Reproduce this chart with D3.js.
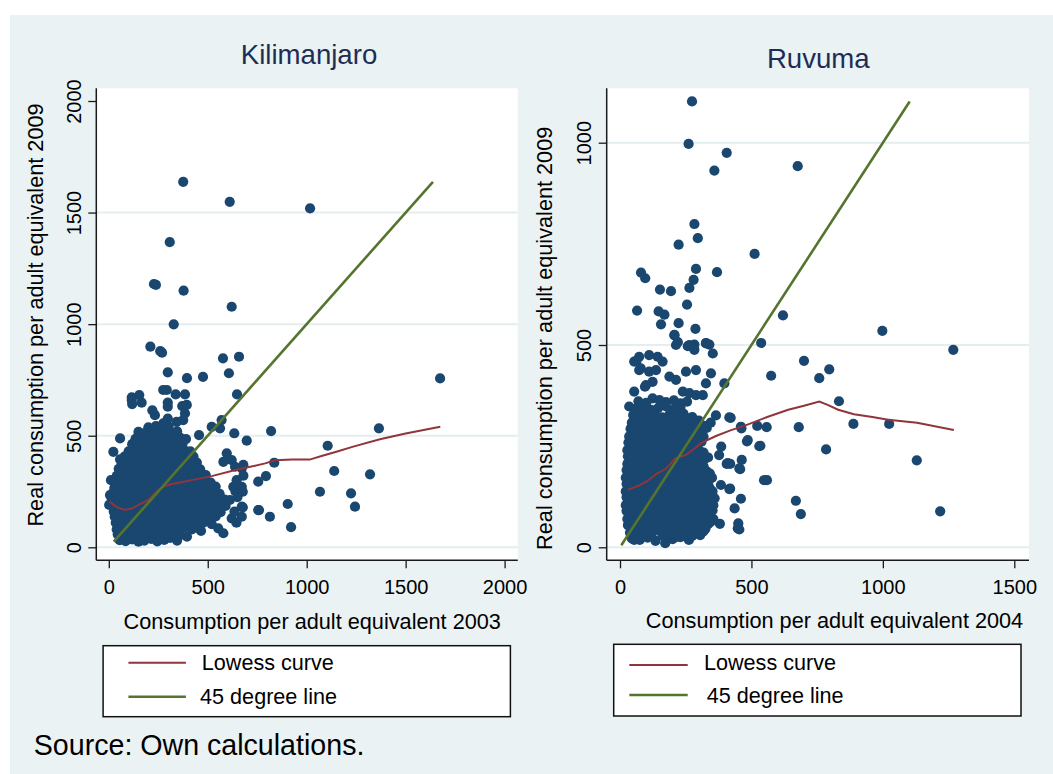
<!DOCTYPE html>
<html>
<head>
<meta charset="utf-8">
<script src="https://cdn.jsdelivr.net/npm/d3@7"></script>
<style>
  body { margin: 0; background: #ffffff; }
  svg { display: block; }
  text { font-family: "Liberation Sans", Arial, sans-serif; }
</style>
</head>
<body>
<svg id="chart" width="1053" height="774"></svg>
<script>
// ---------- Kilimanjaro: consumption 2003 (x) vs real consumption 2009 (y) ----------
const kiliPoints = [
  [376,1638],[611,1548],[1017,1519],[308,1368],[228,1180],[238,1176],[378,1150],[621,1078],[328,999],
  [210,899],[260,879],[269,872],[577,847],[658,854],[298,784],[395,758],[476,764],[607,780],[275,705],
  [293,705],[338,685],[385,685],[648,685],[116,672],[154,682],[1674,757],
  [116,660],[118,642],[166,648],[298,648],[298,630],[371,633],[394,638],[220,614],[233,592],[385,600],
  [376,570],[343,562],[298,577],[275,555],[570,570],[562,533],[520,540],[456,503],[634,511],[697,478],
  [57,488],[23,428],[57,394],[11,301],[6,234],[2,190],[596,421],[579,383],[621,391],[638,361],[672,354],
  [646,301],[629,271],[672,271],[755,294],[612,212],[672,182],[621,130],[672,137],[755,167],[466,74],
  [553,85],[579,63],[820,521],[1365,533],[1106,455],[836,379],[680,369],[1139,342],[1320,327],[794,319],
  [680,321],[677,249],[1067,249],[1224,242],[1244,182],[904,194],[759,167],[814,137],[921,90],[677,179],
  [640,250],[650,225],[635,160],[645,110],
  [55,32],[85,28],[118,35],[150,25],[180,30],[215,38],[245,27],[280,33],[310,42],[345,30],
  [45,58],[75,52],[105,60],[138,50],[168,56],[200,62],[232,53],[262,58],[295,50],[325,60],[360,55],[395,48],
  [40,80],[70,86],[100,78],[130,84],[160,88],[192,79],[222,85],[255,80],[285,87],[318,78],[350,83],[385,90],
  [420,80],[455,86],
  [35,110],[65,104],[95,112],[125,106],[155,102],[188,111],[218,107],[250,113],[280,104],[312,109],[345,115],
  [378,103],[410,110],[440,106],[480,112],[520,104],
  [30,137],[60,132],[92,140],[122,134],[152,130],[185,138],[215,133],[245,141],[278,131],[308,136],[340,142],
  [372,130],[405,137],[438,133],[470,140],[505,131],[540,138],
  [25,160],[55,166],[88,158],[118,163],[148,168],[180,159],[210,165],[242,161],[275,169],[305,157],[338,164],
  [370,160],[400,167],[432,158],[465,163],[498,170],[530,161],[565,157],
  [20,190],[50,185],[82,193],[112,187],[145,182],[175,191],[205,186],[238,194],[270,183],[300,189],[332,192],
  [365,184],[398,190],[430,186],[462,193],[495,182],[528,189],[560,195],[590,185],
  [15,213],[45,218],[78,211],[110,220],[140,214],[172,209],[205,217],[235,222],[268,212],[298,216],[330,210],
  [362,219],[395,214],[428,221],[460,209],[492,216],[525,212],[558,219],[585,214],
  [22,244],[52,238],[85,246],[115,240],[148,236],[178,245],[210,241],[240,248],[272,237],[305,243],[335,249],
  [368,239],[400,245],[432,240],[465,247],[498,236],[530,243],[560,240],
  [28,266],[60,272],[90,264],[122,270],[152,275],[185,263],[215,269],[248,274],[278,265],[310,271],[342,262],
  [372,268],[405,276],[438,264],[470,270],[500,266],[540,272],
  [30,297],[62,292],[95,300],[125,290],[158,296],[190,302],[220,291],[252,298],[285,293],[315,301],[348,289],
  [380,296],[412,292],[445,299],[478,294],[515,290],
  [40,320],[72,326],[105,318],[135,324],[168,329],[198,317],[230,323],[262,328],[292,319],[325,325],[358,316],
  [390,322],[422,327],[455,318],[490,324],
  [50,352],[82,346],[112,354],[145,348],[175,343],[208,351],[240,356],[270,345],[302,350],[335,355],[365,347],
  [398,352],[430,344],[462,349],
  [65,376],[95,381],[128,374],[158,379],[190,384],[220,373],[252,378],[285,383],[315,372],[348,377],[380,382],
  [410,375],[445,380],
  [80,407],[112,402],[142,409],[175,404],[205,399],[238,406],[268,411],[300,401],[332,405],[362,409],[395,400],
  [428,406],
  [100,430],[130,436],[162,428],[192,433],[225,438],[255,427],[288,432],[318,437],[350,429],[382,434],[412,430],
  [118,462],[150,457],[182,464],[212,459],[245,455],[278,461],[308,466],[340,456],[372,462],
  [135,486],[168,491],[200,484],[232,489],[262,494],[295,483],[328,488],[360,492],[390,485],
  [150,517],[182,512],[215,519],[248,514],[280,510],[312,516],[345,520],
  [200,538],[238,543],[270,536],[302,541]
];
const kiliLowessX = [5, 40, 82, 120, 150, 200, 250, 285, 318, 360, 420, 520, 640, 790, 840, 925, 1015, 1075, 1150, 1235, 1370, 1500, 1675];
const kiliLowessY = [204, 180, 167, 175, 190, 212, 257, 275, 284, 290, 301, 319, 346, 376, 390, 393, 393, 409, 428, 451, 484, 510, 540];
const kiliDiag = [25, 1638];
const kiliXTicks = [0, 500, 1000, 1500, 2000];
const kiliYTicks = [0, 500, 1000, 1500, 2000];
const kiliGrid = [0, 500, 1000, 1500];

// ---------- Ruvuma: consumption 2004 (x) vs real consumption 2009 (y) ----------
const ruvPoints = [
  [274,1102],[261,997],[406,975],[359,931],[676,942],[283,799],[296,764],[223,748],[512,725],[289,688],
  [369,680],[80,679],[96,665],[280,661],[264,641],[152,637],[194,633],[65,585],[147,583],[169,575],[255,600],
  [156,551],[223,554],[287,540],[620,573],[207,524],[220,507],[258,497],[283,501],[327,505],[340,501],
  [537,505],[998,535],[1268,488],[700,461],[796,440],[758,418],[575,424],[833,361],[421,320],[462,294],
  [522,300],[558,297],[680,297],[888,305],[1024,305],[483,262],[534,251],[784,242],[385,249],[377,228],
  [406,206],[419,206],[463,216],[457,193],[1129,215],[559,166],[419,145],[460,120],[436,96],[669,115],
  [688,82],[1218,89],[450,59],[454,44],[380,58],[172,10],[54,18],[315,39],[448,47],[416,144],[384,154],
  [454,195],[410,208],[548,166],[486,265],[530,250],[460,298],[416,321],
  [54,459],[73,471],[111,475],[143,471],[162,459],[73,438],[111,434],[137,438],[188,422],[213,414],
  [124,409],[99,401],[54,385],[35,348],[73,331],[124,368],[150,364],[239,385],[251,434],[289,438],
  [327,405],[346,430],[264,381],[289,376],[315,376],[397,405],[213,500],[264,500],[283,488],[327,504],
  [353,479],[207,525],[63,461],[79,442],[95,397],
  [45,22],[75,18],[105,24],[135,16],[200,20],[230,25],[262,18],
  [38,36],[65,40],[92,34],[120,38],[148,42],[175,35],[202,39],[230,33],[258,41],[290,36],[318,40],
  [30,55],[58,51],[85,57],[112,53],[140,49],[168,56],[195,52],[222,58],[250,50],[278,55],[305,53],[335,57],
  [28,70],[55,74],[82,68],[110,72],[138,76],[165,69],[192,73],[220,67],[248,71],[275,75],[302,68],[330,72],[355,70],
  [25,90],[52,86],[80,92],[108,87],[135,84],[162,91],[190,86],[218,89],[245,93],[272,85],[300,90],[328,87],[352,91],
  [22,104],[50,108],[78,102],[105,106],[132,110],[160,103],[188,107],[215,101],[242,105],[270,109],[298,103],[325,107],[355,104],
  [25,124],[52,119],[80,125],[108,121],[135,117],[162,123],[190,126],[218,120],[245,124],[272,118],[300,122],[330,127],[360,121],
  [22,138],[50,142],[78,136],[105,140],[132,144],[160,137],[188,141],[215,135],[242,139],[270,143],[298,137],[325,141],[352,138],
  [25,157],[52,153],[80,159],[108,155],[135,151],[162,158],[190,154],[218,160],[245,152],[272,156],[300,159],[328,154],
  [22,172],[50,176],[78,170],[105,174],[132,178],[160,171],[188,175],[215,169],[242,173],[270,177],[298,171],[325,175],[350,172],
  [25,191],[52,187],[80,193],[108,189],[135,185],[162,192],[190,188],[218,194],[245,186],[272,190],[300,193],[330,188],
  [28,206],[55,210],[82,204],[110,208],[138,212],[165,205],[192,209],[220,203],[248,207],[275,211],[305,205],
  [30,225],[58,221],[85,227],[112,223],[140,219],[168,226],[195,222],[222,228],[250,220],[278,224],[305,227],[335,222],
  [28,240],[55,244],[82,238],[110,242],[138,246],[165,239],[192,243],[220,237],[248,241],[275,245],[302,239],
  [32,259],[60,255],[88,261],[115,257],[142,253],[170,260],[198,256],[225,262],[252,254],[280,258],[310,261],
  [35,274],[62,278],[90,272],[118,276],[145,280],[172,273],[200,277],[228,271],[255,275],[285,279],[318,273],
  [40,293],[68,289],[95,295],[122,291],[150,287],[178,294],[205,290],[232,296],[260,288],[290,292],[330,295],
  [45,308],[72,312],[100,306],[128,310],[155,314],[182,307],[210,311],[238,305],[265,309],[300,313],[345,308],
  [50,327],[78,323],[105,329],[132,325],[160,321],[188,328],[215,324],[242,330],[275,322],[365,326],
  [60,342],[90,346],[118,340],[145,344],[175,348],[205,341],[230,345],
  [70,361],[100,357],[175,359],[205,363],[230,356],[255,360],
  [60,29],[90,27],[120,31],[162,28],[188,30],[215,26],[245,32],[275,28],[305,30],
  [45,46],[72,47],[100,45],[128,48],[155,44],[182,46],[210,47],[238,45],[265,48],[298,44],[325,46],
  [42,63],[70,62],[98,64],[125,61],[152,63],[180,65],[208,62],[235,63],[262,61],[290,64],[318,62],[345,63],
  [40,80],[68,81],[95,79],[122,80],[150,82],[178,79],[205,81],[232,78],[260,80],[288,82],[315,79],[340,81],
  [36,97],[64,96],[92,98],[120,97],[148,95],[175,98],[202,96],[230,97],[258,99],[285,96],[312,98],[340,97],
  [38,114],[66,113],[94,115],[122,114],[148,112],[176,115],[204,113],[230,114],[258,116],[286,113],[314,115],[345,114],
  [36,131],[64,130],[92,132],[120,131],[148,129],[175,132],[202,130],[230,131],[258,133],[285,130],[312,132],[340,131],
  [38,148],[66,147],[94,149],[122,148],[148,146],[176,149],[204,147],[232,148],[258,150],[286,147],[314,149],[340,148],
  [36,165],[64,164],[92,166],[120,165],[148,163],[175,166],[202,164],[230,165],[258,167],[285,164],[312,166],[338,165],
  [38,182],[66,181],[94,183],[122,182],[148,180],[176,183],[204,181],[232,182],[258,184],[286,181],[314,183],[342,182],
  [40,199],[68,198],[95,200],[122,199],[150,197],[178,200],[205,198],[232,199],[260,201],[288,198],[318,200],
  [42,216],[70,215],[98,217],[125,216],[152,214],[180,217],[208,215],[235,216],[262,218],[290,215],[320,217],
  [42,233],[70,232],[96,234],[124,233],[152,231],[180,234],[206,232],[234,233],[262,235],[290,232],[318,234],
  [45,250],[72,249],[100,251],[128,250],[155,248],[182,251],[210,249],[238,250],[265,252],[292,249],
  [48,267],[75,266],[104,268],[132,267],[158,265],[186,268],[214,266],[240,267],[268,269],[300,266],
  [52,284],[80,283],[108,285],[135,284],[162,282],[190,285],[218,283],[245,284],[275,286],[310,283],
  [58,301],[85,300],[112,302],[140,301],[168,299],[195,302],[222,300],[250,301],[280,303],[320,300],
  [62,318],[90,317],[118,319],[146,318],[174,316],[202,319],[228,317],[258,318]
];
const ruvLowessX = [30, 70, 100, 140, 175, 210, 250, 275, 310, 365, 420, 480, 560, 640, 700, 758, 790, 830, 890, 960, 1020, 1130, 1270];
const ruvLowessY = [142, 152, 162, 182, 194, 220, 228, 240, 258, 275, 289, 302, 322, 340, 350, 360, 352, 340, 329, 322, 315, 308, 290];
const ruvDiag = [5, 1102];
const ruvXTicks = [0, 500, 1000, 1500];
const ruvYTicks = [0, 500, 1000];
const ruvGrid = [0, 500, 1000];

// ---------- text ----------
const panelTitles = ["Kilimanjaro", "Ruvuma"];
const xTitles = ["Consumption per adult equivalent 2003", "Consumption per adult equivalent 2004"];
const yTitle = "Real consumption per adult equivalent 2009";
const legendLabels = ["Lowess curve", "45 degree line"];
const sourceNote = "Source: Own calculations.";

// ---------- styling ----------
const COL = {
  bg: "#eaf2f3", plot: "#ffffff", grid: "#e4eef0", axis: "#1a1a1a",
  marker: "#1a476f", lowess: "#90353b", diag: "#55752f", title: "#1f2d55", text: "#000000"
};
const MARKER_R = 5.1;

const svg = d3.select("#chart");

// outer graph region
svg.append("rect").attr("x", 10).attr("y", 15).attr("width", 1043).attr("height", 759).attr("fill", COL.bg);

const panels = [
  {
    title: panelTitles[0], points: kiliPoints, lowX: kiliLowessX, lowY: kiliLowessY, diag: kiliDiag,
    xTicks: kiliXTicks, yTicks: kiliYTicks, grid: kiliGrid, xTitle: xTitles[0],
    xDomain: [0, 2000], yDomain: [0, 2000], xRange: [108.8, 504.6], yRange: [547.3, 101],
    frame: { left: 96.3, right: 517.8, top: 88.3, bottom: 560.3 },
    titlePos: [309, 64.3], xTitlePos: [312.2, 628.5], yTitlePos: [43, 315],
    legend: { x: 103.1, y: 645.7, w: 407.3, h: 71, lx0: 128.4, lx1: 185.9, ly: [662.7, 696.7],
              tx: [201.8, 200.1], ty: [669.5, 703.5] }
  },
  {
    title: panelTitles[1], points: ruvPoints, lowX: ruvLowessX, lowY: ruvLowessY, diag: ruvDiag,
    xTicks: ruvXTicks, yTicks: ruvYTicks, grid: ruvGrid, xTitle: xTitles[1],
    xDomain: [0, 1500], yDomain: [0, 1000], xRange: [620, 1014.3], yRange: [547.3, 142.7],
    frame: { left: 606.7, right: 1029, top: 88.3, bottom: 560.3 },
    titlePos: [818.3, 68.3], xTitlePos: [834.5, 628], yTitlePos: [552, 338.3],
    legend: { x: 613.7, y: 644.3, w: 407.3, h: 71.7, lx0: 629.3, lx1: 687.7, ly: [665, 695],
              tx: [704, 706.7], ty: [669.5, 702.7] }
  }
];

panels.forEach(p => {
  const x = d3.scaleLinear().domain(p.xDomain).range(p.xRange);
  const y = d3.scaleLinear().domain(p.yDomain).range(p.yRange);
  const f = p.frame;
  const g = svg.append("g");

  // plot region
  g.append("rect").attr("x", f.left).attr("y", f.top)
    .attr("width", f.right - f.left).attr("height", f.bottom - f.top).attr("fill", COL.plot);

  // horizontal gridlines
  g.selectAll("line.grid").data(p.grid).join("line").attr("class", "grid")
    .attr("x1", f.left).attr("x2", f.right)
    .attr("y1", d => y(d)).attr("y2", d => y(d))
    .attr("stroke", COL.grid).attr("stroke-width", 2);

  // scatter
  g.append("g").selectAll("circle").data(p.points).join("circle")
    .attr("cx", d => x(d[0])).attr("cy", d => y(d[1])).attr("r", MARKER_R)
    .attr("fill", COL.marker);

  // lowess curve
  const low = p.lowX.map((v, i) => [v, p.lowY[i]]);
  g.append("path").datum(low)
    .attr("d", d3.line().x(d => x(d[0])).y(d => y(d[1])))
    .attr("fill", "none").attr("stroke", COL.lowess).attr("stroke-width", 2);

  // 45 degree line
  g.append("path").datum(p.diag.map(v => [v, v]))
    .attr("d", d3.line().x(d => x(d[0])).y(d => y(d[1])))
    .attr("fill", "none").attr("stroke", COL.diag).attr("stroke-width", 2.6);

  // x axis
  const xa = g.append("g").attr("transform", `translate(0,${f.bottom})`)
    .call(d3.axisBottom(x).tickValues(p.xTicks).tickSize(8).tickSizeOuter(0).tickFormat(d3.format("d")));
  xa.select(".domain").remove();
  xa.selectAll(".tick line").attr("stroke", COL.axis).attr("stroke-width", 1.3);
  xa.selectAll(".tick text").attr("y", 33.3).attr("dy", 0)
    .attr("font-size", 20).attr("fill", COL.text).style("font-family", "'Liberation Sans', Arial, sans-serif");

  // y axis with rotated tick labels
  const ya = g.append("g").attr("transform", `translate(${f.left},0)`)
    .call(d3.axisLeft(y).tickValues(p.yTicks).tickSize(8).tickSizeOuter(0).tickFormat(d3.format("d")));
  ya.select(".domain").remove();
  ya.selectAll(".tick line").attr("stroke", COL.axis).attr("stroke-width", 1.3);
  ya.selectAll(".tick text").attr("transform", "rotate(-90)")
    .attr("x", 0).attr("y", -15.3).attr("dy", 0).attr("text-anchor", "middle")
    .attr("font-size", 20).attr("fill", COL.text).style("font-family", "'Liberation Sans', Arial, sans-serif");

  // axis lines along the plot region edges
  g.append("line").attr("x1", f.left).attr("x2", f.left).attr("y1", f.top).attr("y2", f.bottom)
    .attr("stroke", COL.axis).attr("stroke-width", 1.5);
  g.append("line").attr("x1", f.left).attr("x2", f.right).attr("y1", f.bottom).attr("y2", f.bottom)
    .attr("stroke", COL.axis).attr("stroke-width", 1.5);

  // titles
  g.append("text").attr("x", p.titlePos[0]).attr("y", p.titlePos[1]).attr("text-anchor", "middle")
    .attr("font-size", 27.6).attr("fill", COL.title).text(p.title);
  g.append("text").attr("x", p.xTitlePos[0]).attr("y", p.xTitlePos[1]).attr("text-anchor", "middle")
    .attr("font-size", 21.7).attr("fill", COL.text).text(p.xTitle);
  g.append("text").attr("transform", `translate(${p.yTitlePos[0]},${p.yTitlePos[1]}) rotate(-90)`)
    .attr("text-anchor", "middle").attr("font-size", 21.7).attr("fill", COL.text).text(yTitle);

  // legend
  const L = p.legend;
  g.append("rect").attr("x", L.x).attr("y", L.y).attr("width", L.w).attr("height", L.h)
    .attr("fill", "#ffffff").attr("stroke", "#111111").attr("stroke-width", 1.5);
  const legCols = [COL.lowess, COL.diag];
  const legW = [2, 2.6];
  legendLabels.forEach((lab, i) => {
    g.append("line").attr("x1", L.lx0).attr("x2", L.lx1).attr("y1", L.ly[i]).attr("y2", L.ly[i])
      .attr("stroke", legCols[i]).attr("stroke-width", legW[i]);
    g.append("text").attr("x", L.tx[i]).attr("y", L.ty[i]).attr("font-size", 21.6)
      .attr("fill", COL.text).text(lab);
  });
});

// source note
svg.append("text").attr("x", 33.8).attr("y", 755).attr("font-size", 28.6)
  .attr("fill", COL.text).text(sourceNote);
</script>
</body>
</html>
